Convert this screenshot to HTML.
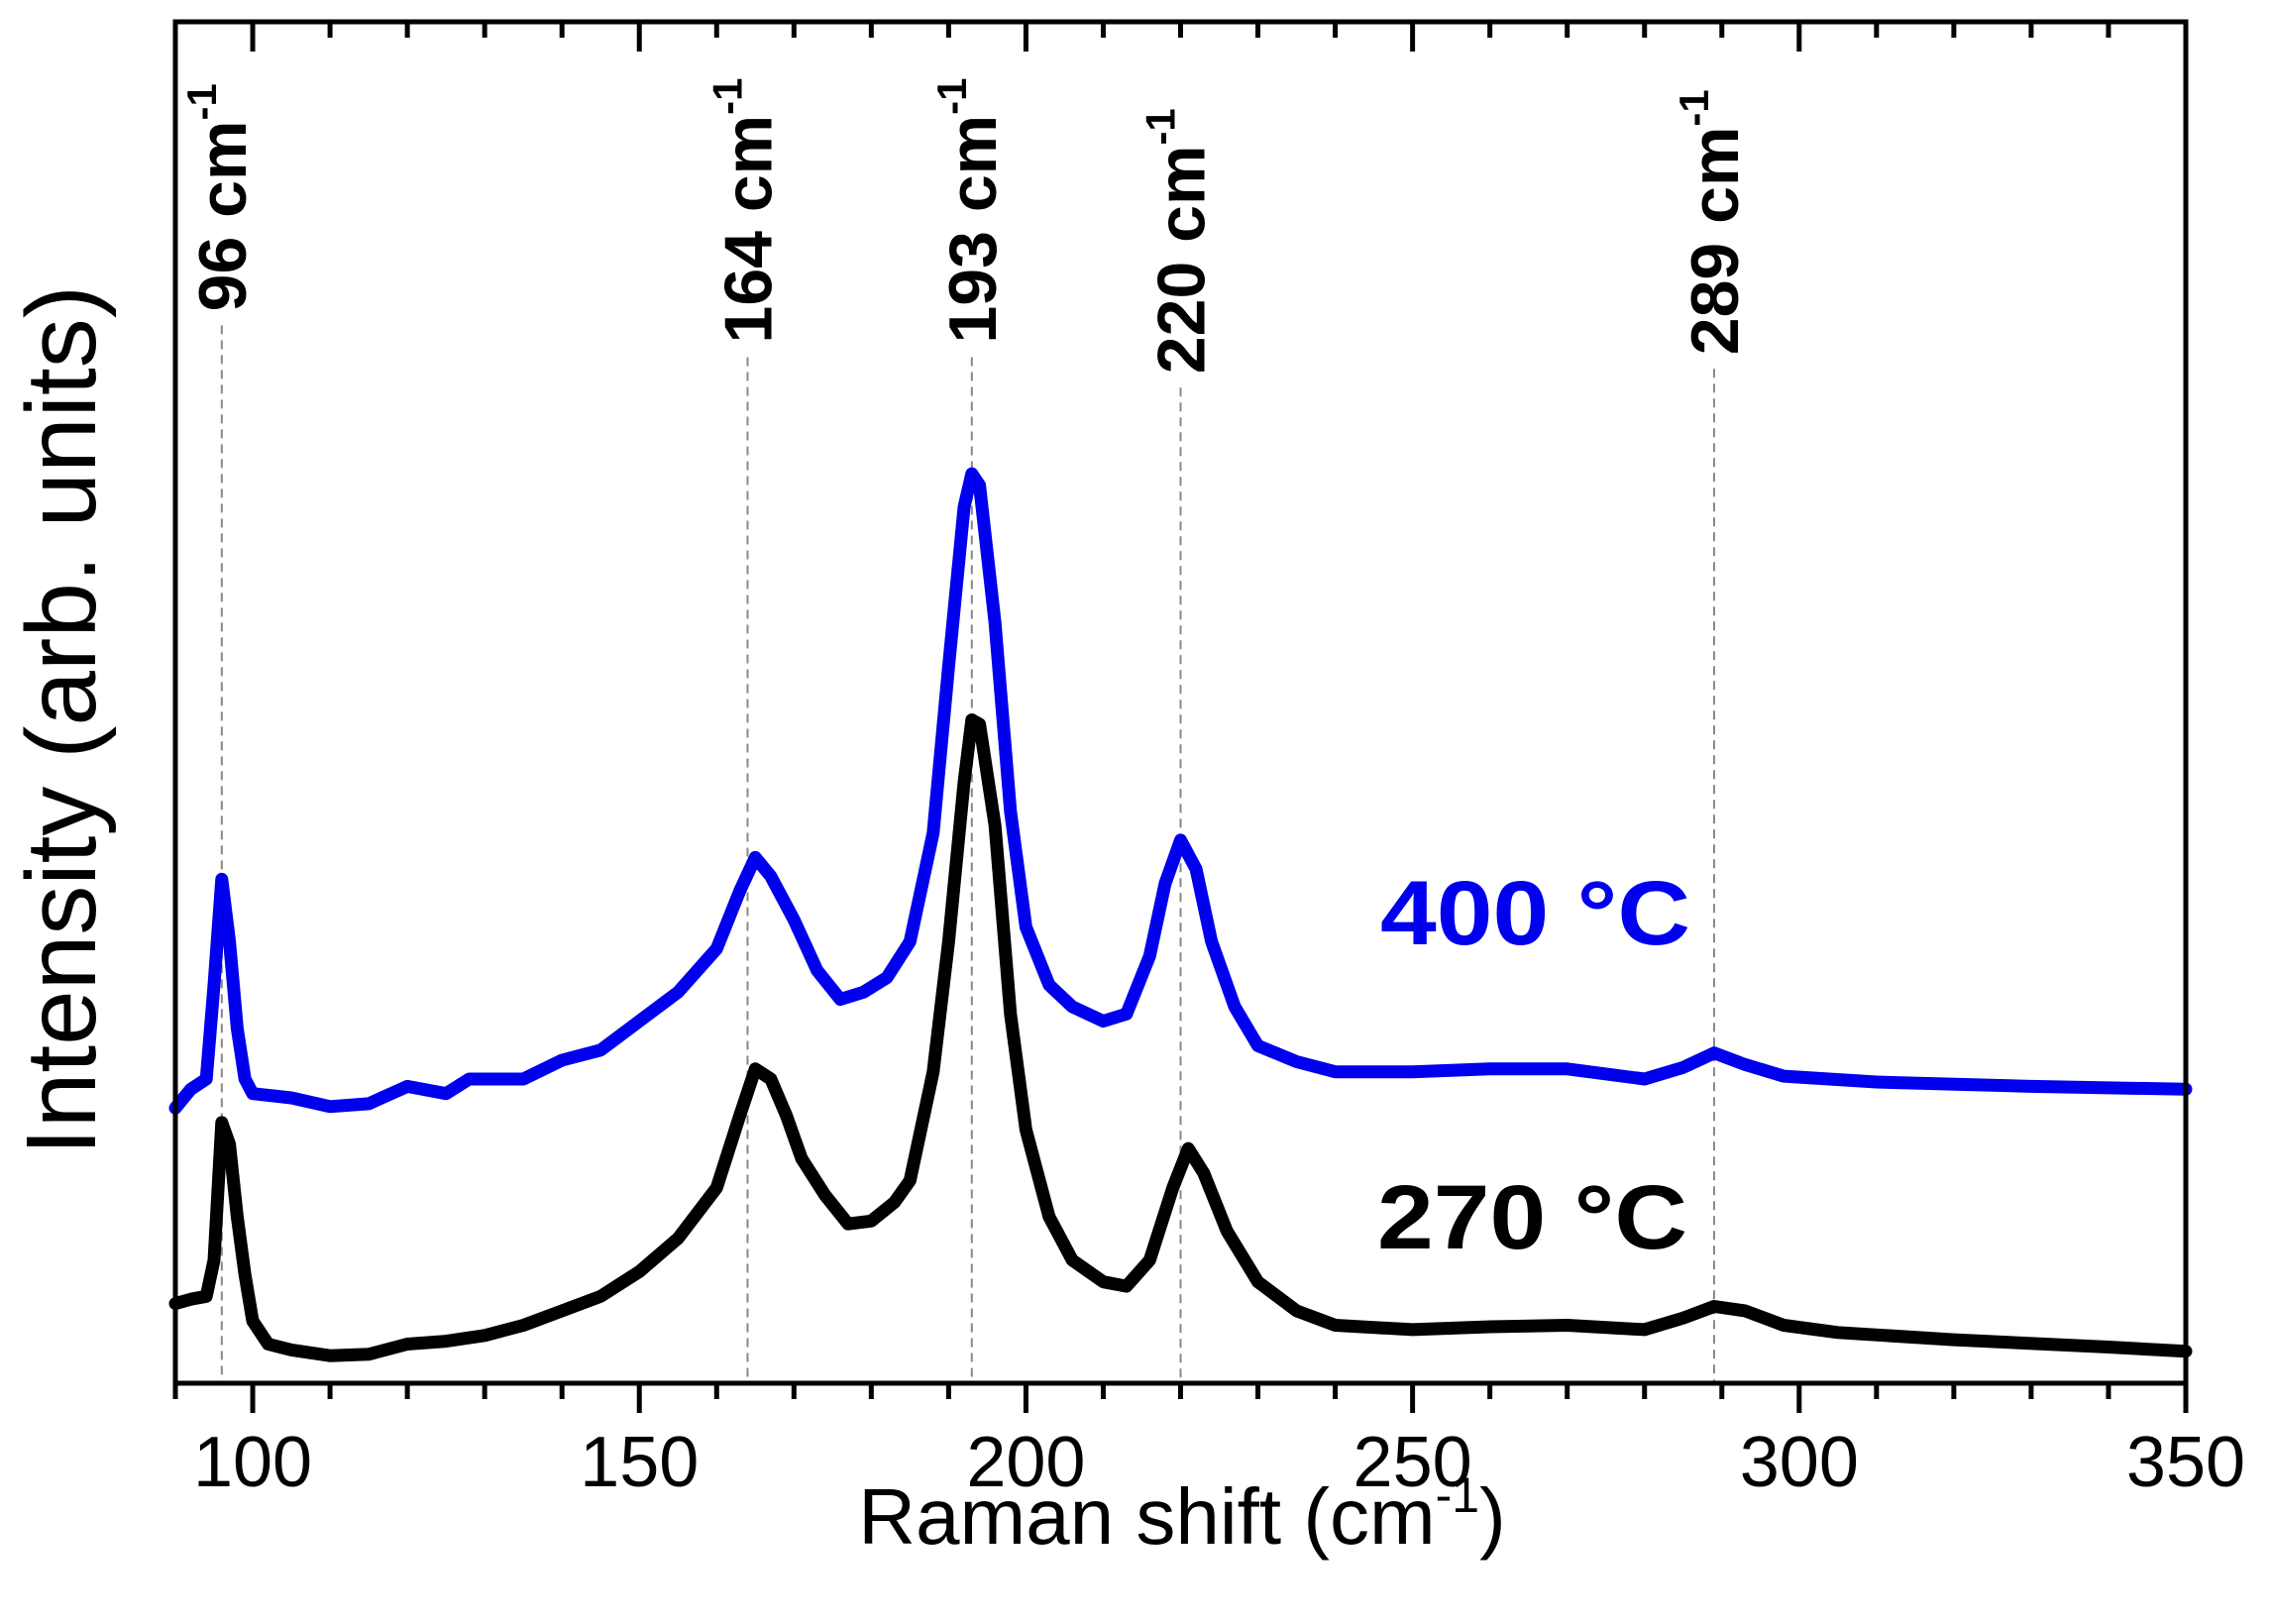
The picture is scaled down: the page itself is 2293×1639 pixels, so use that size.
<!DOCTYPE html>
<html><head><meta charset="utf-8"><style>
html,body{margin:0;padding:0;background:#fff;}
svg{display:block;font-family:"Liberation Sans",Arial,sans-serif;}
</style></head><body>
<svg id="chart" width="2293" height="1639" viewBox="0 0 2293 1639">
<g id="marks"></g>
<g id="axes"></g>
</svg>
<script>
const xsBlack = [90,92,94,95,96,97,98,99,100,102,105,110,115,120,125,130,135,140,145,150,155,160,163,165,167,169,171,174,177,180,183,185,188,190,192,193,194,196,198,200,203,206,210,213,216,219,221,223,226,230,235,240,250,260,270,280,285,289,293,298,305,320,340,350];
const valsBlack = [55,58,60,85,180,165,115,75,43,27,23,19,20,27,29,33,40,50,60,77,100,135,185,217,210,185,155,130,110,112,125,140,215,305,415,458,455,385,255,175,115,85,70,67,85,135,162,145,105,70,50,40,37,39,40,37,45,53,50,40,35,30,25,22];
const xsBlue = [90,92,94,95,96,97,98,99,100,105,110,115,120,125,128,132,135,140,145,150,155,160,163,165,167,170,173,176,179,182,185,188,190,192,193,194,196,198,200,203,206,210,213,216,218,220,222,224,227,230,235,240,250,260,270,280,285,289,293,298,310,330,350];
const valsBlue = [190,203,210,275,348,305,245,210,200,197,191,193,205,200,210,210,210,223,230,250,270,300,340,363,350,320,285,265,270,280,305,380,495,605,628,620,525,395,315,275,260,250,255,295,345,375,355,305,260,233,222,215,215,217,217,210,218,228,220,212,208,205,203];
const peakPos = [96,164,193,220,289];
const peakLabels = ["96 cm","164 cm","193 cm","220 cm","289 cm"];
const peakLabelEnd = [740,718,718,697,710];
const xTicks = [100,150,200,250,300,350];
const xTickLabels = ["100","150","200","250","300","350"];

const L=177,R=2206,T=22,B=1396;
const X0=90,X1=350,Y0=0,Y1=940;
const sx=v=>L+(v-X0)/(X1-X0)*(R-L);
const sy=v=>B-(v-Y0)/(Y1-Y0)*(B-T);
const NS="http://www.w3.org/2000/svg";
const marks=document.getElementById('marks'), axes=document.getElementById('axes');
function mk(tag,attrs,parent){const e=document.createElementNS(NS,tag);for(const k in attrs)e.setAttribute(k,attrs[k]);parent.appendChild(e);return e;}

peakPos.forEach((p,i)=>{
  const ln=mk('line',{x1:sx(p),x2:sx(p),y1:sy(peakLabelEnd[i])+14,y2:B,stroke:'#888','stroke-width':2,'stroke-dasharray':'9,6'},marks);
  
  
  const tx=sx(p)+24, ty=sy(peakLabelEnd[i]);
  const t=mk('text',{x:tx,y:ty,transform:`rotate(-90 ${tx} ${ty})`,'font-size':68,'font-weight':'bold',fill:'#000'},marks);
  
  
  t.textContent=peakLabels[i];
  const s=mk('tspan',{dy:-30,'font-size':42},t);s.textContent='-1';
});

function curve(xs,vs,color,name){
  const d=xs.map((x,i)=>(i?'L':'M')+sx(x).toFixed(1)+','+sy(vs[i]).toFixed(1)).join(' ');
  const p=mk('path',{d:d,fill:'none',stroke:color,'stroke-width':13,'stroke-linejoin':'round','stroke-linecap':'round'},marks);
  
  
}
curve(xsBlue,valsBlue,'#0000ee','series-400c');
curve(xsBlack,valsBlack,'#000','series-270c');

const fr=mk('rect',{x:L,y:T,width:R-L,height:B-T,fill:'none',stroke:'#000','stroke-width':5},axes);


for(let v=90;v<=350;v+=10){
  const major=v%50===0, len=major?30:16;
  mk('line',{x1:sx(v),x2:sx(v),y1:B,y2:B+len,stroke:'#000','stroke-width':5},axes);
  mk('line',{x1:sx(v),x2:sx(v),y1:T,y2:T+len,stroke:'#000','stroke-width':5},axes);
}
xTicks.forEach((v,i)=>{
  const t=mk('text',{x:sx(v),y:1500,'text-anchor':'middle','font-size':72,fill:'#000'},axes);
  
  
  t.textContent=xTickLabels[i];
});
const xt=mk('text',{x:1193,y:1558,'text-anchor':'middle','font-size':80,fill:'#000'},axes);


xt.textContent='Raman shift (cm';
const xs1=mk('tspan',{dy:-32,'font-size':50},xt);xs1.textContent='-1';
const xs2=mk('tspan',{dy:32},xt);xs2.textContent=')';
const yt=mk('text',{x:0,y:0,transform:'translate(96,727) rotate(-90)','text-anchor':'middle','font-size':100,fill:'#000'},axes);


yt.textContent='Intensity (arb. units)';
const l1=mk('text',{x:1393,y:953,'font-size':92,'font-weight':'bold',fill:'#0000ee',textLength:313,lengthAdjust:'spacingAndGlyphs'},axes);


l1.textContent='400 °C';
const l2=mk('text',{x:1390,y:1260,'font-size':92,'font-weight':'bold',fill:'#000',textLength:313,lengthAdjust:'spacingAndGlyphs'},axes);


l2.textContent='270 °C';
</script>
</body></html>
